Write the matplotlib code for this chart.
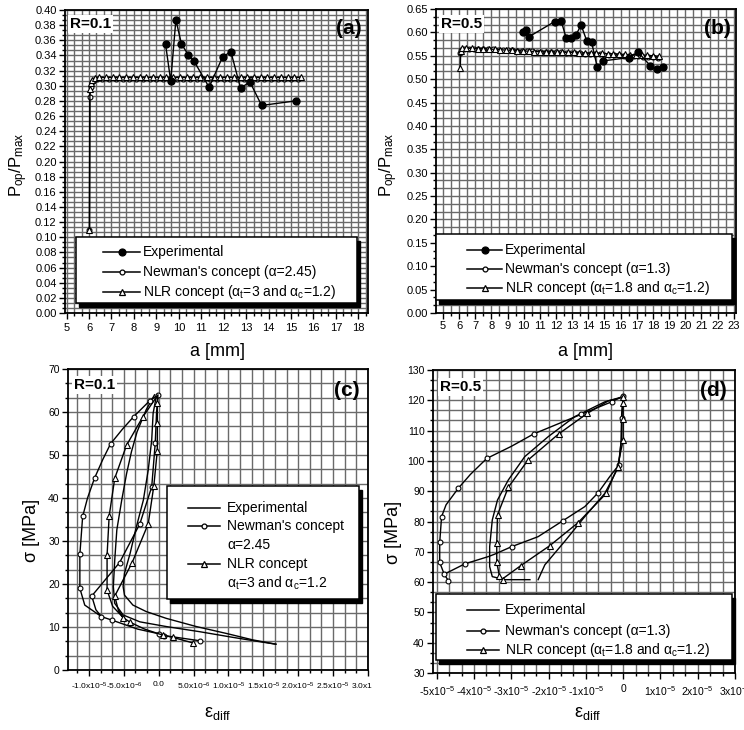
"""
Four-panel comparison: crack opening load (a, b) and stress vs differential
strain loops (c, d) for R=0.1 and R=0.5 -- experiment vs Newman and NLR.
"""
import matplotlib
matplotlib.use("Agg")
import matplotlib.pyplot as plt
from matplotlib.lines import Line2D
from matplotlib.patches import Rectangle
from matplotlib.ticker import MultipleLocator, FormatStrFormatter
from matplotlib.transforms import Bbox, TransformedBbox

plt.rcParams["font.family"] = ["Liberation Sans", "DejaVu Sans"]
plt.rcParams["mathtext.default"] = "regular"

W, H = 744, 730

# ---------------- (a) R=0.1 : Pop/Pmax vs a [mm]
a_exp_a = [9.41, 9.64, 9.87, 10.12, 10.42, 10.67, 11.35, 11.95, 12.32, 12.75, 13.17, 13.69, 15.2]
p_exp_a = [0.355, 0.306, 0.387, 0.355, 0.341, 0.333, 0.298, 0.338, 0.345, 0.297, 0.305, 0.274, 0.280]

a_new_a = [6.02, 6.03, 6.07, 6.12, 6.2, 6.35, 6.6, 6.9, 7.2, 7.5,
           7.8, 8.1, 8.4, 8.7, 9.0, 9.3, 9.6, 9.9, 10.2, 10.5,
           10.8, 11.1, 11.4, 11.7, 12.0, 12.3, 12.6, 12.9, 13.2, 13.5,
           13.8, 14.1, 14.4, 14.7, 15.0, 15.3]
p_new_a = [0.110, 0.285, 0.298, 0.305, 0.308, 0.309, 0.309, 0.309, 0.309, 0.309,
           0.309, 0.309, 0.309, 0.309, 0.309, 0.309, 0.309, 0.309, 0.309, 0.309,
           0.309, 0.309, 0.309, 0.309, 0.309, 0.309, 0.309, 0.309, 0.309, 0.309,
           0.309, 0.309, 0.309, 0.309, 0.309, 0.309]

a_nlr_a = [6.02, 6.04, 6.09, 6.15, 6.25, 6.45, 6.75, 7.05, 7.35, 7.65,
           7.95, 8.25, 8.55, 8.85, 9.15, 9.45, 9.75, 10.05, 10.35, 10.65,
           10.95, 11.25, 11.55, 11.85, 12.15, 12.45, 12.75, 13.05, 13.35, 13.65,
           13.95, 14.25, 14.55, 14.85, 15.15, 15.45]
p_nlr_a = [0.110, 0.296, 0.303, 0.308, 0.310, 0.311, 0.311, 0.311, 0.311, 0.311,
           0.311, 0.311, 0.311, 0.311, 0.311, 0.311, 0.311, 0.311, 0.311, 0.311,
           0.311, 0.311, 0.311, 0.311, 0.311, 0.311, 0.311, 0.311, 0.311, 0.311,
           0.311, 0.311, 0.311, 0.311, 0.311, 0.311]

# ---------------- (b) R=0.5 : Pop/Pmax vs a [mm]
a_exp_b = [9.93, 10.13, 10.34, 11.91, 12.32, 12.63, 12.94, 13.23, 13.55, 13.90,
           14.20, 14.55, 14.90, 16.50, 17.10, 17.83, 18.23, 18.64]
p_exp_b = [0.600, 0.606, 0.591, 0.623, 0.624, 0.588, 0.588, 0.594, 0.616, 0.582,
           0.579, 0.526, 0.539, 0.546, 0.557, 0.529, 0.521, 0.526]

a_new_b = [6.07, 6.1, 6.3, 6.6, 6.9, 7.2, 7.5, 7.8, 8.1, 8.4,
           8.7, 9.0, 9.3, 9.6, 9.9, 10.2, 10.5, 10.8, 11.1, 11.4,
           11.7, 12.0, 12.3, 12.6, 12.9, 13.2, 13.5, 13.8, 14.1, 14.4,
           14.7, 15.0, 15.3, 15.6, 15.9, 16.2, 16.5, 16.8, 17.1, 17.4,
           17.7, 18.0, 18.3]
p_new_b = [0.556, 0.563, 0.565, 0.565, 0.565, 0.565, 0.565, 0.564, 0.564, 0.563,
           0.563, 0.562, 0.562, 0.561, 0.561, 0.560, 0.560, 0.559, 0.559, 0.558,
           0.558, 0.557, 0.557, 0.556, 0.556, 0.555, 0.555, 0.554, 0.554, 0.553,
           0.553, 0.552, 0.552, 0.551, 0.551, 0.550, 0.550, 0.549, 0.549, 0.548,
           0.548, 0.547, 0.546]

a_nlr_b = [6.07, 6.1, 6.2, 6.45, 6.8, 7.15, 7.5, 7.85, 8.2, 8.55,
           8.9, 9.25, 9.6, 9.95, 10.3, 10.65, 11.0, 11.35, 11.7, 12.05,
           12.4, 12.75, 13.1, 13.45, 13.8, 14.15, 14.5, 14.85, 15.2, 15.55,
           15.9, 16.25, 16.6, 16.95, 17.3, 17.65, 18.0, 18.35]
p_nlr_b = [0.523, 0.560, 0.566, 0.566, 0.566, 0.565, 0.565, 0.564, 0.564, 0.563,
           0.562, 0.562, 0.561, 0.560, 0.560, 0.559, 0.559, 0.558, 0.558, 0.558,
           0.557, 0.557, 0.557, 0.556, 0.556, 0.555, 0.555, 0.555, 0.554, 0.554,
           0.553, 0.553, 0.552, 0.552, 0.551, 0.551, 0.550, 0.549]

# ---------------- (c) R=0.1 : sigma [MPa] vs eps_diff [x1e-5]
e_exp_c_load = [1.68, 1.35, 0.97, 0.54, 0.11, -0.18, -0.37, -0.49, -0.51, -0.49,
                -0.41, -0.32, -0.22, -0.15, -0.10, -0.08, -0.03]
s_exp_c_load = [6.0, 7.0, 8.5, 10.1, 12.0, 13.6, 15.1, 17.4, 19.4, 22.5,
                27.1, 33.3, 39.5, 46.5, 53.5, 59.7, 64.0]
e_exp_c_unl = [-0.06, -0.18, -0.31, -0.39, -0.46, -0.53, -0.60, -0.63, -0.65, -0.63,
               -0.51, -0.27, 0.11, 0.59, 1.06, 1.44, 1.68]
s_exp_c_unl = [64.0, 60.5, 55.4, 50.8, 45.7, 39.5, 32.6, 25.6, 19.4, 15.5,
               12.8, 11.2, 10.1, 8.9, 7.6, 6.6, 6.0]

e_new_c = [0.59, 0.08, 0.01, -0.30, -0.67, -0.82, -1.06, -1.13, -1.13, -1.09,
           -1.02, -0.92, -0.80, -0.69, -0.52, -0.36, -0.13, -0.01, -0.03, -0.05,
           -0.10, -0.27, -0.56, -0.96, -0.90, -0.82]
s_new_c = [6.8, 8.0, 8.4, 9.5, 11.6, 12.4, 15.1, 19.0, 26.9, 35.7,
           40.0, 44.6, 49.0, 52.6, 56.0, 58.9, 62.6, 64.0, 60.0, 52.7,
           42.6, 34.0, 25.0, 17.2, 14.0, 12.4]
mk_new_c = [0, 1, 2, 4, 5, 7, 8, 9, 11, 13, 15, 16, 17, 19, 20, 21, 22, 23]

e_nlr_c = [0.49, 0.20, 0.06, -0.20, -0.41, -0.51, -0.66, -0.74, -0.74, -0.71,
           -0.63, -0.46, -0.23, -0.01, -0.02, -0.02, -0.02, -0.07, -0.15, -0.38,
           -0.63, -0.58, -0.51]
s_nlr_c = [6.3, 7.6, 8.1, 9.5, 11.1, 12.2, 14.8, 18.6, 26.7, 35.8,
           44.6, 52.3, 58.8, 64.0, 62.0, 57.5, 51.0, 42.8, 34.0, 25.0,
           17.2, 14.0, 12.2]
mk_nlr_c = [0, 1, 2, 4, 5, 7, 8, 9, 10, 11, 12, 14, 15, 16, 17, 18, 19, 20]

c_ticks = [-1.0, -0.5, 0.0, 0.5, 1.0, 1.5, 2.0, 2.5, 3.0]
c_ticklabels = ["-1.0x10$^{-5}$", "-5.0x10$^{-6}$", "0.0", "5.0x10$^{-6}$", "1.0x10$^{-5}$",
                "1.5x10$^{-5}$", "2.0x10$^{-5}$", "2.5x10$^{-5}$", "3.0x10$^{-5}$"]

# ---------------- (d) R=0.5 : sigma [MPa] vs eps_diff [x1e-5]
e_exp_d_load = [-2.28, -2.10, -1.57, -1.03, -0.49, -0.13, -0.05, -0.04, 0.00]
s_exp_d_load = [60.8, 65.7, 73.4, 81.6, 89.3, 97.9, 106.9, 115.3, 121.2]
e_exp_d_unl = [0.00, -0.49, -1.30, -2.01, -2.64, -3.08, -3.37, -3.51, -3.58, -3.58,
               -3.51, -3.17, -2.50]
s_exp_d_unl = [121.2, 119.5, 114.6, 108.0, 101.4, 93.7, 87.1, 80.5, 71.7, 65.1,
               61.8, 60.8, 60.8]

e_new_d = [-4.69, -4.80, -4.92, -4.92, -4.87, -4.75, -4.42, -4.10, -3.66, -3.00,
           -2.40, -1.12, -0.31, 0.00, -0.04, -0.05, -0.12, -0.36, -0.67, -1.03,
           -1.61, -2.28, -2.99, -3.45, -3.62, -4.25, -4.80]
s_new_d = [60.5, 62.6, 66.5, 73.1, 81.6, 85.5, 91.0, 95.5, 100.8, 104.8,
           108.9, 115.4, 119.5, 121.4, 114.1, 106.9, 98.6, 94.8, 89.5, 84.9,
           80.3, 75.0, 71.7, 69.2, 68.4, 66.0, 62.6]
mk_new_d = [0, 1, 2, 3, 4, 6, 8, 10, 11, 12, 13, 14, 16, 18, 20, 22, 25]

e_nlr_d = [-3.22, -3.32, -3.39, -3.39, -3.37, -3.08, -2.55, -1.73, -0.96, -0.40,
           0.00, 0.00, 0.00, 0.00, -0.15, -0.45, -1.22, -1.97, -2.75, -3.22]
s_nlr_d = [60.8, 62.1, 66.5, 73.0, 82.2, 91.3, 100.3, 108.9, 115.7, 119.8,
           121.0, 119.0, 113.8, 106.9, 98.0, 89.3, 79.5, 72.0, 65.4, 61.2]
mk_nlr_d = [0, 1, 2, 3, 4, 5, 6, 7, 8, 10, 11, 12, 13, 14, 15, 16, 17, 18]

d_ticks = [-5, -4, -3, -2, -1, 0, 1, 2, 3]
d_ticklabels = ["-5x10$^{-5}$", "-4x10$^{-5}$", "-3x10$^{-5}$", "-2x10$^{-5}$", "-1x10$^{-5}$",
                "0", "1x10$^{-5}$", "2x10$^{-5}$", "3x10$^{-5}$"]


def fx(px):
    return px / W


def fy(py):
    return 1 - py / H


def _axes(fig, left, top, right, bottom):
    return fig.add_axes([fx(left), fy(bottom), (right - left) / W, (bottom - top) / H])


def _frame(ax, xlim, ylim, xmaj, xmin, ymaj, ymin, fsx, fsy, padx):
    ax.set_xlim(*xlim)
    ax.set_ylim(*ylim)
    ax.xaxis.set_major_locator(MultipleLocator(xmaj))
    ax.xaxis.set_minor_locator(MultipleLocator(xmin))
    ax.yaxis.set_major_locator(MultipleLocator(ymaj))
    ax.yaxis.set_minor_locator(MultipleLocator(ymin))
    ax.set_axisbelow(True)
    ax.grid(which="both", color="#6a6a6a", lw=1.0)
    ax.tick_params(which="both", direction="out", top=False, right=False,
                   width=1.0, color="black")
    ax.tick_params(which="major", length=4)
    ax.tick_params(which="minor", length=2.5)
    ax.tick_params(axis="x", labelsize=fsx, pad=padx)
    ax.tick_params(axis="y", labelsize=fsy, pad=2)
    for s in ax.spines.values():
        s.set_linewidth(1.3)


def _legend_box(fig, x0, y0, x1, y1, dx=3, dy=4):
    fig.add_artist(Rectangle((fx(x0 + dx), fy(y1 + dy)), (x1 - x0) / W, (y1 - y0) / H,
                             transform=fig.transFigure, facecolor="black",
                             edgecolor="black", zorder=5))
    fig.add_artist(Rectangle((fx(x0), fy(y1)), (x1 - x0) / W, (y1 - y0) / H,
                             transform=fig.transFigure, facecolor="white",
                             edgecolor="black", lw=1.1, zorder=6))


def _entry(fig, hx0, hx1, y, tx, text, marker=None, mfc="white", ms=4.0, handle=True):
    if handle:
        fig.add_artist(Line2D([fx(hx0), fx((hx0 + hx1) / 2), fx(hx1)], [fy(y)] * 3,
                              transform=fig.transFigure, color="black", lw=1.1,
                              marker=marker, markevery=[1], mfc=mfc, mec="black",
                              mew=0.9, ms=ms, zorder=7))
    fig.text(fx(tx), fy(y), text, fontsize=10, ha="left", va="center", zorder=7)


def _tag(fig, x, y, text):
    fig.text(fx(x), fy(y), text, fontsize=11, fontweight="bold", ha="left", va="center",
             bbox=dict(facecolor="white", edgecolor="none", pad=1.5), zorder=4)


fig = plt.figure(figsize=(W / 100, H / 100), dpi=100)
fig.patch.set_facecolor("white")

line_kw = dict(color="black", lw=1.0)
new_kw = dict(marker="o", ms=3.5, mfc="white", mec="black", mew=0.8)
nlr_kw = dict(marker="^", ms=4.0, mfc="white", mec="black", mew=0.8)
ylab_p = "P$_{op}$/P$_{max}$"

# ----- (a)
ax = _axes(fig, 65, 10, 368, 313)
ax.plot(a_new_a, p_new_a, **line_kw, **new_kw)
ax.plot(a_nlr_a, p_nlr_a, **line_kw, **nlr_kw)
ax.plot(a_exp_a, p_exp_a, **line_kw, marker="o", ms=5, mfc="black", mec="black")
_frame(ax, (4.93, 18.43), (0, 0.40), 1, 1 / 3, 0.02, 0.02 / 3, 8, 8, 3)
ax.yaxis.set_major_formatter(FormatStrFormatter("%.2f"))
fig.text(fx(217), fy(351), "a [mm]", fontsize=13, ha="center", va="center")
fig.text(fx(19), fy(165), ylab_p, fontsize=12, rotation=90, ha="center", va="center")
_tag(fig, 70, 24, "R=0.1")
fig.text(fx(362), fy(28), "(a)", fontsize=15, fontweight="bold", ha="right", va="center")
_legend_box(fig, 76, 237, 357, 303)
_entry(fig, 103, 140, 252, 143, "Experimental", marker="o", mfc="black", ms=5)
_entry(fig, 103, 140, 272, 143, "Newman's concept (α=2.45)", marker="o", ms=3.5)
_entry(fig, 103, 140, 292, 143, "NLR concept (α$_{t}$=3 and α$_{c}$=1.2)", marker="^", ms=4.5)

# ----- (b)
ax = _axes(fig, 436, 9, 736, 313)
ax.plot(a_new_b, p_new_b, **line_kw, **new_kw)
ax.plot(a_nlr_b, p_nlr_b, **line_kw, **nlr_kw)
ax.plot(a_exp_b, p_exp_b, **line_kw, marker="o", ms=5, mfc="black", mec="black")
_frame(ax, (4.57, 23.14), (0, 0.65), 1, 0.5, 0.05, 0.05 / 3, 8, 8, 2)
ax.yaxis.set_major_formatter(FormatStrFormatter("%.2f"))
fig.text(fx(586), fy(351), "a [mm]", fontsize=13, ha="center", va="center")
fig.text(fx(389), fy(165), ylab_p, fontsize=12, rotation=90, ha="center", va="center")
_tag(fig, 441, 24, "R=0.5")
fig.text(fx(731), fy(29), "(b)", fontsize=15, fontweight="bold", ha="right", va="center")
_legend_box(fig, 436, 234, 732, 300)
_entry(fig, 467, 502, 250, 505, "Experimental", marker="o", mfc="black", ms=5)
_entry(fig, 467, 502, 269, 505, "Newman's concept (α=1.3)", marker="o", ms=3.5)
_entry(fig, 467, 502, 288, 505, "NLR concept (α$_{t}$=1.8 and α$_{c}$=1.2)", marker="^", ms=4.5)

# ----- (c)
ax = _axes(fig, 68, 369, 368, 670)
ax.plot(e_exp_c_load, s_exp_c_load, **line_kw)
ax.plot(e_exp_c_unl, s_exp_c_unl, **line_kw)
ax.plot(e_new_c, s_new_c, **line_kw, **new_kw, markevery=mk_new_c)
ax.plot(e_nlr_c, s_nlr_c, **line_kw, **nlr_kw, markevery=mk_nlr_c)
_frame(ax, (-1.3, 3.0), (0, 70), 0.5, 0.5 / 3, 10, 10 / 3, 6, 7.5, 4)
ax.set_xticks(c_ticks, labels=c_ticklabels)
ax.xaxis.set_minor_locator(MultipleLocator(0.5 / 3))
clip = TransformedBbox(Bbox([[0, 0], [372 / W, 1]]), fig.transFigure)
for lab in ax.get_xticklabels():
    lab.set_clip_box(clip)
    lab.set_clip_on(True)
fig.text(fx(218), fy(714), "ε$_{diff}$", fontsize=13, ha="center", va="center")
fig.text(fx(31), fy(530), "σ [MPa]", fontsize=13, rotation=90, ha="center", va="center")
_tag(fig, 74, 385, "R=0.1")
fig.text(fx(360), fy(390), "(c)", fontsize=15, fontweight="bold", ha="right", va="center")
_legend_box(fig, 167, 486, 359, 599)
_entry(fig, 188, 220, 508, 227, "Experimental")
_entry(fig, 188, 220, 526, 227, "Newman's concept", marker="o", ms=3.5)
_entry(fig, 188, 220, 545, 227, "α=2.45", handle=False)
_entry(fig, 188, 220, 564, 227, "NLR concept", marker="^", ms=4.5)
_entry(fig, 188, 220, 583, 227, "α$_{t}$=3 and α$_{c}$=1.2", handle=False)

# ----- (d)
ax = _axes(fig, 433, 370, 735, 673)
ax.plot(e_exp_d_load, s_exp_d_load, **line_kw)
ax.plot(e_exp_d_unl, s_exp_d_unl, **line_kw)
ax.plot(e_new_d, s_new_d, **line_kw, **new_kw, markevery=mk_new_d)
ax.plot(e_nlr_d, s_nlr_d, **line_kw, **nlr_kw, markevery=mk_nlr_d)
_frame(ax, (-5.1, 3.0), (30, 130), 1, 1 / 3, 10, 10 / 3, 7.5, 7.5, 4)
ax.set_xticks(d_ticks, labels=d_ticklabels)
ax.xaxis.set_minor_locator(MultipleLocator(1 / 3))
fig.text(fx(588), fy(714), "ε$_{diff}$", fontsize=13, ha="center", va="center")
fig.text(fx(394), fy(532), "σ [MPa]", fontsize=13, rotation=90, ha="center", va="center")
_tag(fig, 440, 387, "R=0.5")
fig.text(fx(727), fy(391), "(d)", fontsize=15, fontweight="bold", ha="right", va="center")
_legend_box(fig, 436, 594, 732, 660)
_entry(fig, 467, 499, 610, 505, "Experimental")
_entry(fig, 467, 499, 631, 505, "Newman's concept (α=1.3)", marker="o", ms=3.5)
_entry(fig, 467, 499, 650, 505, "NLR concept (α$_{t}$=1.8 and α$_{c}$=1.2)", marker="^", ms=4.5)

fig.savefig("out.png", dpi=100)
plt.close(fig)
